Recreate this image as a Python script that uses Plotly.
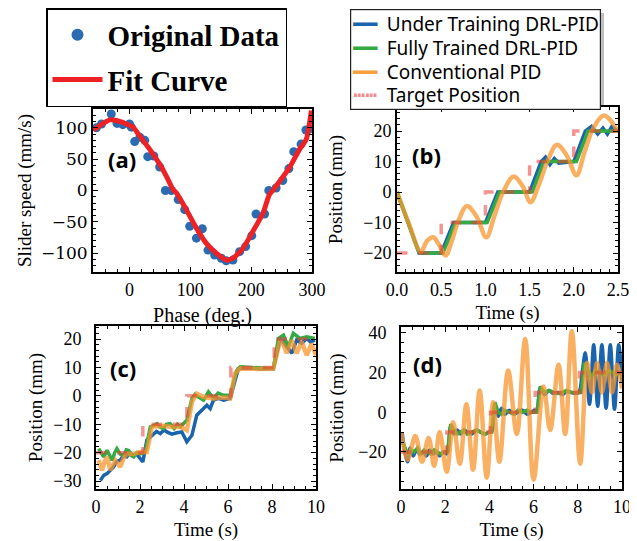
import plotly.graph_objects as go

W, H = 637, 541
OFF = 8  # the page body adds an 8px offset; positions below are given in reference pixels
def px(x): return (x - OFF) / W
def py(y): return 1 - (y - OFF) / H

# ---------------- Panel (a) data ----------------
phase_data = [-54.5, -46, -30, -20.5, -11, 0, 3, 8.5, 17, 25, 30, 40, 49.6, 59, 69, 80, 90.7, 99,
              110, 119.7, 129, 140, 151, 159, 170, 181, 191, 201, 208, 222, 229, 241, 252, 262,
              270, 282, 290, 296]
speed_data = [100, 106, 122, 107, 105, 106, 101, 78, 85, 80, 54, 55, 37.5, 0, 0, -14.5, -30.6, -57,
              -76, -61, -95, -103, -108, -112, -111, -97.6, -89.5, -72, -37.5, -37.5, 0, 4, 16, 35,
              62, 74, 96.5, 98]
phase_fit = [-59, -45, -32.6, -15, -5, 5.8, 16.7, 33, 49.6, 60.5, 66, 71.5, 77, 93.4, 110, 126,
             142.7, 159, 170, 186.6, 203, 219.5, 230, 236, 247, 263, 279.7, 290.7, 299]
speed_fit = [96.5, 106, 112.6, 110, 106, 101, 87, 66, 42, 23, 12, 1.6, -3.7, -30.6, -60, -84,
             -100, -111, -108, -92, -65, -36, -6.4, 0.5, 15, 36.5, 66, 82, 127.6]

# ---------------- Panel (b) data ----------------
tb_target = [0, 0.5, 1.0, 1.5, 2.0, 2.5]
yb_target = [-20, -10, 0, 10, 20, 20]
tb_green = [0, 0.25, 0.52, 0.66, 1.02, 1.16, 1.53, 1.66, 2.03, 2.16, 2.5]
yb_green = [0, -20, -20, -10, -10, 0, 0, 10, 10, 20, 20]
tb_blue = [0, 0.25, 0.5, 0.64, 1.0, 1.14, 1.5, 1.63, 1.68, 1.73, 1.78, 1.83, 2.0, 2.13,
           2.2, 2.27, 2.33, 2.38, 2.43, 2.5]
yb_blue = [0, -20, -20, -10, -10, 0, 0, 10, 11.5, 9, 11, 9.5, 10, 20,
           21.5, 19, 21, 19, 21.5, 20]
tb_orange = [0, 0.13, 0.27, 0.34, 0.41, 0.48, 0.55, 0.62, 0.7, 0.79, 0.9, 1.01, 1.1, 1.2,
             1.32, 1.42, 1.51, 1.6, 1.7, 1.81, 1.92, 2.03, 2.12, 2.22, 2.34, 2.43, 2.5]
yb_orange = [0, -10, -19.5, -16, -14.8, -17.5, -20.8, -16, -9, -4.6, -8, -14.8, -8, 0,
             5.1, 2, -3.3, 2, 10, 15.5, 12, 5.5, 13, 21, 25.1, 23, 19.7]

# ---------------- Panel (c) data ----------------
tc_target = [0, 2.13, 4.13, 6.13, 8.1, 10]
yc_target = [-20, -10, 0, 10, 20, 20]
tc_blue = [0.2, 0.35, 0.5, 0.65, 0.8, 0.95, 1.1, 1.25, 1.4, 1.55, 1.7, 1.85, 2.0, 2.13, 2.31,
           2.54, 2.75, 2.92, 3.1, 3.22, 3.45, 3.68, 3.9, 4.13, 4.36, 4.58, 4.81, 5.04, 5.19,
           5.34, 5.57, 5.8, 6.1, 6.47, 7.0, 7.5, 8.06, 8.37, 8.5, 8.67, 8.9, 9.12, 9.35, 9.58,
           9.75, 9.95]
yc_blue = [-29.8, -28, -27.4, -26, -25, -23, -22.7, -21, -21.5, -20, -21, -20.5, -22, -23.3, -15.6,
           -13.9, -12.5, -13.3, -12, -12.7, -13.5, -13, -12.7, -16.2, -13.9, -6.8, -5, -3.3, -4.5,
           -1.5, -0.9, -1.5, -0.9, 9.6, 9.8, 9.5, 9.6, 20.2, 19, 17.3, 15, 19.6, 18.5, 20.2,
           19, 19.6]
tc_green = [0.12, 0.25, 0.35, 0.5, 0.62, 0.73, 0.85, 0.95, 1.1, 1.26, 1.38, 1.48, 1.6, 1.71, 1.85,
            2.01, 2.24, 2.47, 2.62, 2.77, 2.9, 3.07, 3.2, 3.37, 3.55, 3.7, 3.83, 4.13, 4.36, 4.5,
            4.66, 4.89, 5.11, 5.34, 5.55, 5.79, 6.1, 6.4, 6.55, 7.2, 8.06, 8.29, 8.52, 8.74,
            8.97, 9.27, 9.58, 9.95]
yc_green = [-18.6, -20, -21.5, -19.2, -21, -22.7, -20, -18.6, -20.5, -21, -19, -19.2, -21, -21.5, -20,
            -20.4, -19.8, -10.9, -10.5, -9.8, -11, -11.5, -10, -9.8, -11.5, -10, -10.9, -8.6, -0.9, 0.5,
            -0.4, -1.5, 1.4, -0.9, 1, 0.2, 0.2, 9.0, 10.2, 10, 9.6, 20.2, 21.4, 17.3,
            22, 20.2, 20.8, 20.2]
tc_orange = [0.12, 0.27, 0.4, 0.5, 0.65, 0.78, 0.88, 1.0, 1.1, 1.25, 1.4, 1.7, 2.0, 2.31, 2.54,
             3.0, 3.5, 3.83, 4.13, 4.36, 4.58, 4.89, 5.34, 5.8, 6.1, 6.32, 6.55, 7.3, 8.06, 8.37,
             8.52, 8.67, 8.9, 9.12, 9.35, 9.58, 9.8, 10]
yc_orange = [-22.7, -26.2, -23, -21.5, -26.2, -24, -22.7, -24, -25, -22, -20.4, -20.5, -19.8, -19.8, -10.9,
             -10.5, -11, -10.9, -12.1, -2.1, 0.8, -0.4, -0.9, -0.6, -0.9, 7.9, 9.6, 9.5, 9.6, 19.6,
             18, 15, 19.6, 15, 19, 14.3, 18.4, 14.3]

# ---------------- Panel (d) data ----------------
td_target = [0, 2.07, 4.05, 6.07, 8.08, 10]
yd_target = [-20, -10, 0, 10, 20, 20]
td_blue = [0.05, 0.15, 0.3, 0.4, 0.55, 0.7, 0.85, 1.0, 1.15, 1.3, 1.45, 1.6, 1.75, 1.9, 2.05,
           2.12, 2.25, 2.4, 2.55, 2.7, 2.85, 3.0, 3.2, 3.4, 3.6, 3.8, 4.0, 4.1, 4.25, 4.4,
           4.55, 4.7, 4.9, 5.1, 5.3, 5.5, 5.7, 5.9, 6.05, 6.15, 6.3, 6.5, 6.7, 6.9, 7.1, 7.3,
           7.5, 7.7, 7.9, 8.05, 8.2, 8.34, 8.53, 8.72, 8.9, 9.09, 9.28, 9.47, 9.66, 9.85, 10]
yd_blue = [-10, -18, -25, -18, -22, -19, -21, -20, -22, -19, -21, -20, -22, -20, -21,
           -20, -7, -11, -9, -11, -9, -10, -11, -9, -10, -11, -10, -10, 4, -2,
           2, -1, 1, -1, 0, 1, -1, 0, 1, 0, 12, 9, 11, 9.5, 10, 9,
           10.5, 10, 9.5, 10, 20, 30, 4, 34, 3, 34, 2, 34, 1.5, 34, 15]
td_green = [0.05, 0.15, 0.3, 0.45, 0.6, 0.75, 0.9, 1.05, 1.2, 1.35, 1.5, 1.65, 1.8, 1.95, 2.1,
            2.25, 2.4, 2.55, 2.7, 2.85, 3.0, 3.2, 3.4, 3.6, 3.8, 4.0, 4.1, 4.25, 4.4, 4.55,
            4.7, 4.9, 5.1, 5.3, 5.5, 5.7, 5.9, 6.05, 6.15, 6.3, 6.5, 6.7, 6.9, 7.1, 7.3, 7.5,
            7.7, 7.9, 8.05, 8.15, 8.3, 8.45, 8.6, 8.8, 9.0, 9.2, 9.4, 9.6, 9.8, 10]
yd_green = [-15, -17, -21, -19, -20, -18, -21, -19, -20, -21, -19, -20, -21, -20, -20,
            -6, -9, -11, -10, -9, -11, -10, -9, -10, -11, -10, -10, 5, 0, -1,
            1, 0, -1, 1, 0, 1, 0, 0, 0, 13, 10, 11, 10, 9.5, 10, 11,
            10, 10, 10, 10, 25, 21, 18, 21, 20, 19, 21, 20, 19, 20]
td_orange = [0.02, 0.3, 0.65, 0.95, 1.25, 1.5, 1.75, 2.07, 2.36, 2.66, 2.96, 3.26, 3.56, 3.88,
             4.17, 4.45, 4.85, 5.24, 5.62, 6.0, 6.45, 6.75, 7.13, 7.43, 7.73, 8.11, 8.42, 8.64,
             8.87, 9.09, 9.32, 9.55, 9.77, 10]
yd_orange = [-10, -24, -12, -25, -13, -27, -10, -30, -5, -26, 4, -29, 11, -33,
             5, -25, 21, -11, 37, -34, 13, -9, 24, -11, 41, -26, 25, 10,
             25, 10, 25, 10, 24, 12]

legend_names = ["Under Training DRL-PID", "Fully Trained DRL-PID", "Conventional PID", "Target Position"]
panel_labels = ["(a)", "(b)", "(c)", "(d)"]

BLUE = "#1a63ad"
GREEN = "#33aa44"
ORANGE = "rgba(247,150,45,0.75)"
TARGET = "rgba(235,60,55,0.55)"
DOT = "#2a6bb2"
RED = "#ee2124"
legend_colors = [BLUE, GREEN, "#f8a040", "#f08c8c"]
legend_glyphs = ["━━", "━━", "━━", "┅┅"]

fig = go.Figure()

# (a)
fig.add_trace(go.Scatter(x=phase_data, y=speed_data, mode="markers", name="Original Data",
                         marker=dict(color=DOT, size=9), xaxis="x", yaxis="y",
                         legendgroup="g1"))
fig.add_trace(go.Scatter(x=phase_fit, y=speed_fit, mode="lines", name="Fit Curve",
                         line=dict(color=RED, width=5, shape="spline", smoothing=0.6),
                         xaxis="x", yaxis="y", legendgroup="g2"))

def add_set(ax, tb, yb, tg, yg, to, yo, tt, yt, blue_shape="linear", orange_shape="spline"):
    xa, ya = ("x" + ax, "y" + ax)
    fig.add_trace(go.Scatter(x=tb, y=yb, mode="lines", name=legend_names[0],
                             line=dict(color=BLUE, width=3.5, shape=blue_shape),
                             xaxis=xa, yaxis=ya, showlegend=False))
    fig.add_trace(go.Scatter(x=tg, y=yg, mode="lines", name=legend_names[1],
                             line=dict(color=GREEN, width=3.5),
                             xaxis=xa, yaxis=ya, showlegend=False))
    fig.add_trace(go.Scatter(x=to, y=yo, mode="lines", name=legend_names[2],
                             line=dict(color=ORANGE, width=4.5, shape=orange_shape),
                             xaxis=xa, yaxis=ya, showlegend=False))
    fig.add_trace(go.Scatter(x=tt, y=yt, mode="lines", name=legend_names[3],
                             line=dict(color=TARGET, width=3.5, dash="dash", shape="hv"),
                             xaxis=xa, yaxis=ya, showlegend=False))

add_set("2", tb_blue, yb_blue, tb_green, yb_green, tb_orange, yb_orange, tb_target, yb_target)
add_set("3", tc_blue, yc_blue, tc_green, yc_green, tc_orange, yc_orange, tc_target, yc_target,
        orange_shape="linear")
add_set("4", td_blue, yd_blue, td_green, yd_green, td_orange, yd_orange, td_target, yd_target,
        blue_shape="spline")

SERIF = "Liberation Serif"

def axis(domain, rng, dtick, minor, title, anchor, fmt=None, standoff=4, lstand=0,
         tfam=SERIF, tsize=18, hfam=SERIF, hsize=19):
    d = dict(domain=domain, range=rng, dtick=dtick, tick0=0, ticks="inside", ticklen=5,
             tickwidth=1.3, tickcolor="black", showline=True, linewidth=2, linecolor="black",
             mirror="allticks", showgrid=False, zeroline=False,
             tickfont=dict(family=tfam, size=tsize, color="black"),
             ticklabelstandoff=lstand,
             title=dict(text=title, font=dict(family=hfam, size=hsize, color="black"),
                        standoff=standoff),
             anchor=anchor, automargin=False,
             minor=dict(ticks="inside", ticklen=3, dtick=minor, tickwidth=1, tickcolor="black",
                        showgrid=False),
             fixedrange=True)
    if fmt:
        d["tickformat"] = fmt
    return d

fig.update_layout(
    template="none",
    width=W, height=H, margin=dict(l=0, r=0, t=0, b=0, autoexpand=False),
    paper_bgcolor="white", plot_bgcolor="white",
    xaxis=axis([px(93), px(312)], [-60, 300], 100, 20, "Phase (deg.)", "y", standoff=9, hsize=20),
    yaxis=axis([py(272), py(109)], [-130, 130], 50, 10, "Slider speed (mm/s)", "x", standoff=4,
               tfam="DejaVu Serif", tsize=17),
    xaxis2=axis([px(397), px(618)], [0, 2.5], 0.5, 0.1, "Time (s)", "y2", fmt=".1f", standoff=7),
    yaxis2=axis([py(272), py(107)], [-26.2, 27.9], 10, 2, "Position (mm)", "x2", standoff=16),
    xaxis3=axis([px(96), px(316)], [0, 10], 2, 0.5, "Time (s)", "y3", standoff=7),
    yaxis3=axis([py(489), py(326)], [-32.8, 24.6], 10, 2, "Position (mm)", "x3", standoff=6,
                lstand=9),
    xaxis4=axis([px(401), px(622)], [0, 10], 2, 0.5, "Time (s)", "y4", standoff=7),
    yaxis4=axis([py(489), py(327)], [-38.7, 43], 20, 5, "Position (mm)", "x4", standoff=10,
                lstand=9),
    legend=dict(x=px(46), y=py(8), xanchor="left", yanchor="top", bgcolor="white",
                bordercolor="black", borderwidth=1.5, traceorder="grouped", tracegroupgap=4,
                itemsizing="constant", itemwidth=50,
                font=dict(family=SERIF, size=29, color="black", weight="bold")),
    showlegend=True,
)

# legend of panels (b)-(d), written as text with coloured line glyphs
leg_lines = []
for g, c, n in zip(legend_glyphs, legend_colors, legend_names):
    leg_lines.append("<span style='color:%s;font-family:DejaVu Sans;font-size:20px'>%s</span>"
                     "\u00a0\u00a0<span style='font-size:19px'>%s</span>" % (c, g, n))
leg_text = "<br>".join(leg_lines)

# shadow behind that legend box
fig.add_shape(type="rect", xref="paper", yref="paper", x0=px(354), x1=px(604), y0=py(107),
              y1=py(13), fillcolor="rgba(0,0,0,0.25)", line=dict(width=0), layer="below")
fig.add_annotation(text=leg_text, x=px(350), y=py(9), xref="paper", yref="paper",
                   xanchor="left", yanchor="top", align="left", showarrow=False,
                   bgcolor="white", bordercolor="#222", borderwidth=1.2, borderpad=1,
                   font=dict(family="Noto Sans", size=18.2, color="black"))

label_pos = [(122, 159), (426, 155), (123, 368), (427, 364)]
for txt, (x, y) in zip(panel_labels, label_pos):
    fig.add_annotation(text=txt, x=px(x), y=py(y), xref="paper", yref="paper", showarrow=False,
                       xanchor="center", yanchor="middle",
                       font=dict(family="Open Sans", size=22, color="black", weight="bold"))

fig.write_html("out.html")
